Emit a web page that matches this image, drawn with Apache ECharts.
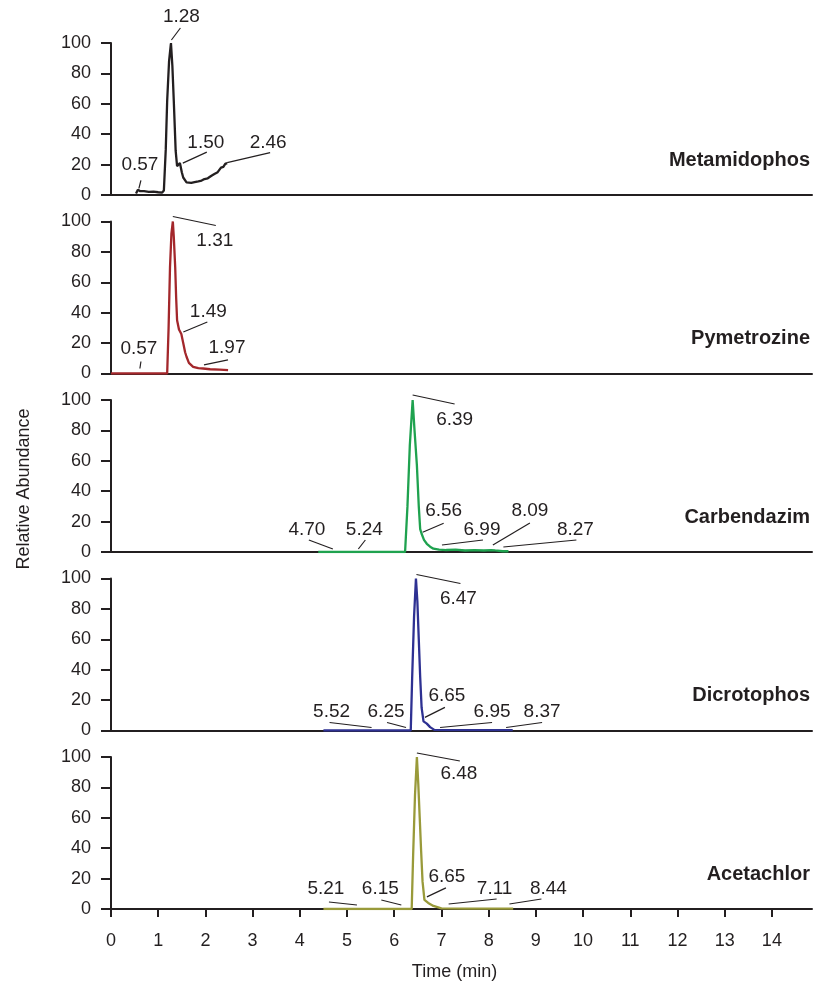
<!DOCTYPE html>
<html>
<head>
<meta charset="utf-8">
<script src="https://cdn.jsdelivr.net/npm/echarts@6/dist/echarts.min.js"></script>
<style>
html, body { margin: 0; padding: 0; background: #fff; }
#chart { width: 813px; height: 989px; }
</style>
</head>
<body>
<div id="chart"></div>
<script>
// x axis ticks (min)
const timeTicks = [0, 1, 2, 3, 4, 5, 6, 7, 8, 9, 10, 11, 12, 13, 14];
const compounds = ['Metamidophos', 'Pymetrozine', 'Carbendazim', 'Dicrotophos', 'Acetachlor'];

// chromatograms, [time (min), relative abundance]
const metamidophos = [
  [0.53, 1], [0.57, 3.5], [0.62, 2.5], [0.70, 2.5], [0.80, 2], [0.90, 2.2], [1.00, 1.8], [1.08, 1.5],
  [1.12, 3], [1.16, 30], [1.19, 62], [1.23, 88], [1.27, 100], [1.30, 85], [1.33, 62], [1.37, 29],
  [1.40, 19], [1.43, 20], [1.46, 21], [1.50, 15], [1.53, 11.5], [1.60, 8.3], [1.70, 8], [1.77, 8.5],
  [1.85, 9], [1.92, 9.5], [1.98, 10.5], [2.05, 11], [2.12, 12.5], [2.19, 13.8], [2.26, 15], [2.33, 18],
  [2.38, 18.5], [2.42, 20.5], [2.46, 21]
];
const pymetrozine = [
  [0, 0], [1.19, 0], [1.22, 30], [1.25, 70], [1.28, 92], [1.31, 100], [1.33, 90], [1.36, 70],
  [1.38, 50], [1.40, 35], [1.44, 29], [1.49, 26], [1.53, 20], [1.57, 14], [1.60, 11], [1.65, 7],
  [1.74, 4.4], [1.85, 3.5], [1.95, 3.3], [2.10, 2.8], [2.30, 2.5], [2.48, 2.2]
];
const carbendazim = [
  [4.39, 0], [6.23, 0], [6.28, 30], [6.33, 70], [6.39, 100], [6.43, 80], [6.48, 57], [6.52, 30],
  [6.55, 15], [6.58, 12], [6.63, 8], [6.69, 5.4], [6.76, 3.5], [6.83, 2.2], [6.95, 1.5], [7.10, 1.3],
  [7.30, 1.5], [7.50, 1], [7.70, 1.3], [7.90, 1], [8.05, 1.3], [8.09, 2], [8.14, 1], [8.30, 0.5], [8.42, 0.5]
];
const dicrotophos = [
  [4.50, 0], [6.35, 0], [6.38, 35], [6.42, 75], [6.46, 100], [6.49, 85], [6.52, 60], [6.55, 35],
  [6.58, 15], [6.62, 6], [6.65, 5.5], [6.69, 4.5], [6.76, 2.2], [6.85, 0.4], [7.20, 0.2], [7.80, 0.2], [8.51, 0.2]
];
const acetachlor = [
  [4.50, 0], [6.37, 0], [6.40, 35], [6.44, 75], [6.48, 100], [6.51, 82], [6.54, 60], [6.57, 38],
  [6.60, 18], [6.64, 6], [6.68, 5], [6.72, 4], [6.83, 2], [7.00, 0.4], [7.50, 0.2], [8.52, 0.2]
];

// labelled peaks, [retention time, abundance where the leader line starts]
const metamidophosPeaks = [[0.57, 3], [1.28, 100], [1.50, 21], [2.46, 20]];
const pymetrozinePeaks = [[0.57, 0], [1.31, 100], [1.49, 26], [1.97, 3]];
const carbendazimPeaks = [[4.70, 0], [5.24, 0], [6.39, 100], [6.56, 13], [6.99, 0], [8.09, 0], [8.27, 0]];
const dicrotophosPeaks = [[5.52, 0], [6.25, 0], [6.47, 100], [6.65, 6], [6.95, 0], [8.37, 0]];
const acetachlorPeaks = [[5.21, 0], [6.15, 0], [6.48, 100], [6.65, 6], [7.11, 0], [8.44, 0]];

const traces = [metamidophos, pymetrozine, carbendazim, dicrotophos, acetachlor];
const peaks = [metamidophosPeaks, pymetrozinePeaks, carbendazimPeaks, dicrotophosPeaks, acetachlorPeaks];

// styling / layout
const ink = '#231f20';
const font = '"Liberation Sans", Arial, Helvetica, sans-serif';
const lineColors = ['#231f20', '#a3272b', '#1fa24f', '#2e3192', '#999a3a'];
const gridTops = [43, 221.5, 400, 578.5, 757];
const gridH = 152;
// leader offsets in px from the anchor point: [sx, sy, ex, ey, labelX, labelY]
const leaders = [
  [[1, -2, 3, -10, 2, -26], [0, -3, 9, -15, 10, -26], [1, 0, 25, -11, 24, -20], [0, -2, 43, -12, 41, -22]],
  [[2, -5, 3, -12, 1, -25], [0, -5, 43, 4, 42, 19], [2, -2, 26, -12, 27, -22], [0, -4, 24, -9, 23, -21]],
  [[0, -3, -24, -12, -26, -22], [0, -3, 7, -12, 6, -22], [0, -5, 42, 4, 42, 20], [2, 0, 23, -9, 23, -21],
   [1, -7, 42, -12, 41, -22], [0, -7, 37, -29, 37, -41], [2, -5, 75, -12, 74, -22]],
  [[0, -3, -42, -8, -40, -19], [0, -3, -19, -8, -20, -19], [0, -4, 44, 5, 42, 20], [0, -4, 20, -14, 22, -26],
   [1, -3, 53, -8, 53, -19], [0, -3, 36, -8, 36, -19]],
  [[0, -4, -28, -7, -31, -20], [0, -4, -20, -9, -21, -20], [0, -4, 43, 4, 42, 17], [2, -3, 21, -12, 22, -23],
   [2, -5, 50, -10, 48, -20], [0, -5, 32, -10, 39, -20]]
];

function leaderItem(panel) {
  return function (params, api) {
    const p = api.coord([api.value(0), api.value(1)]);
    const o = leaders[panel][params.dataIndex];
    return {
      type: 'group',
      children: [
        { type: 'line', shape: { x1: p[0] + o[0], y1: p[1] + o[1], x2: p[0] + o[2], y2: p[1] + o[3] },
          style: { stroke: ink, lineWidth: 1.2 } },
        { type: 'text', x: p[0] + o[4], y: p[1] + o[5],
          style: { text: api.value(0).toFixed(2), fill: ink, font: '19px ' + font, align: 'center', verticalAlign: 'middle' } }
      ]
    };
  };
}

const chart = echarts.init(document.getElementById('chart'));

const series = [];
traces.forEach(function (d, i) {
  series.push({
    type: 'line', xAxisIndex: i, yAxisIndex: i, data: d, showSymbol: false, symbol: 'none',
    lineStyle: { color: lineColors[i], width: 2.3 }, z: 3
  });
  series.push({
    type: 'custom', xAxisIndex: i, yAxisIndex: i, data: peaks[i], renderItem: leaderItem(i), z: 4, clip: false
  });
});

const graphic = compounds.map(function (name, i) {
  return {
    type: 'text', x: 810, y: gridTops[i] + gridH - 35,
    style: { text: name, fill: ink, font: 'bold 20px ' + font, align: 'right', verticalAlign: 'middle' }
  };
});
graphic.push({
  type: 'text', x: 24, y: 489, rotation: Math.PI / 2,
  style: { text: 'Relative Abundance', fill: ink, font: '18px ' + font, align: 'center', verticalAlign: 'middle' }
});

chart.setOption({
  animation: false,
  backgroundColor: '#fff',
  grid: gridTops.map(function (t) {
    return { left: 111, top: t, width: 701, height: gridH };
  }),
  xAxis: gridTops.map(function (t, i) {
    const last = i === gridTops.length - 1;
    return {
      gridIndex: i, type: 'value', min: 0, max: 14.85,
      axisLine: { show: true, onZero: false, lineStyle: { color: ink, width: 2 } },
      axisTick: { show: last, length: 8, customValues: timeTicks, lineStyle: { color: ink, width: 2 } },
      axisLabel: { show: last, customValues: timeTicks, fontSize: 18, color: ink, margin: 23, fontFamily: font },
      splitLine: { show: false },
      name: last ? 'Time (min)' : '', nameLocation: 'middle', nameGap: 54,
      nameTextStyle: { fontSize: 18, color: ink, fontFamily: font, padding: [0, 14, 0, 0] }
    };
  }),
  yAxis: gridTops.map(function (t, i) {
    return {
      gridIndex: i, type: 'value', min: 0, max: 100, interval: 20,
      axisLine: { show: true, lineStyle: { color: ink, width: 2 } },
      axisTick: { show: true, length: 10, lineStyle: { color: ink, width: 2 } },
      axisLabel: { fontSize: 18, color: ink, margin: 20, fontFamily: font },
      splitLine: { show: false }
    };
  }),
  graphic: graphic,
  series: series
});
</script>
</body>
</html>
